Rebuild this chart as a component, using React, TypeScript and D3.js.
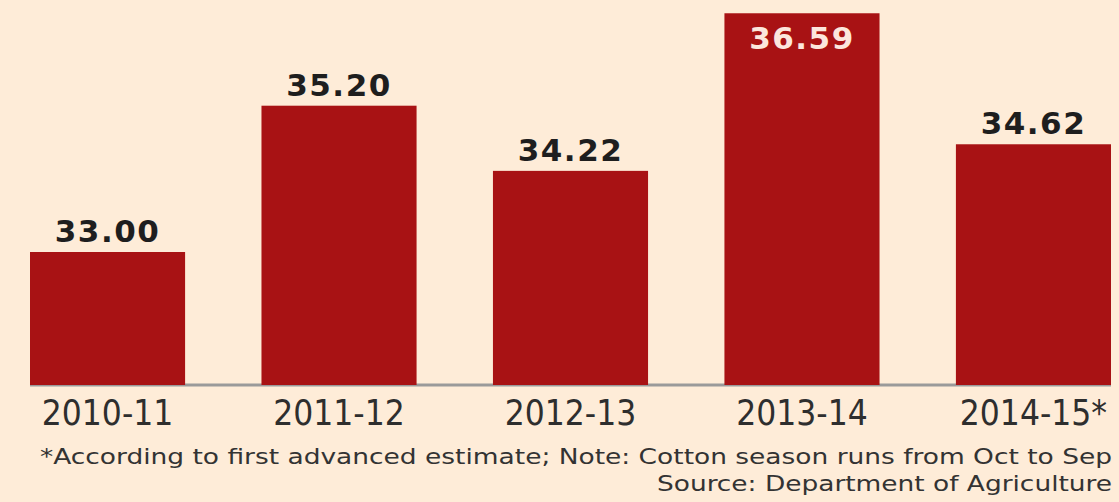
import React from "react";
import * as d3 from "d3";

const categories: string[] = ["2010-11", "2011-12", "2012-13", "2013-14", "2014-15*"];
const values: number[] = [33.0, 35.2, 34.22, 36.59, 34.62];
const valueLabels: string[] = ["33.00", "35.20", "34.22", "36.59", "34.62"];
const footnote = "*According to first advanced estimate; Note: Cotton season runs from Oct to Sep";
const source = "Source: Department of Agriculture";

const W = 1119;
const H = 502;
const BG = "#FEECD8";
const BAR = "#A81214";

export default function App() {
  const x = d3.scaleBand<string>().domain(categories).range([30, 1111]).paddingInner(0.33).paddingOuter(0);
  const y = d3.scaleLinear().domain([31, 37]).range([385, -14]);
  const maxV = d3.max(values) as number;
  const condensed = "'DejaVu Sans Condensed', 'DejaVu Sans', sans-serif";

  return (
    <svg width={W} height={H} style={{ position: "absolute", left: 0, top: 0, display: "block" }}>
      <rect x={0} y={0} width={W} height={H} fill={BG} />
      <line x1={x(categories[0])} x2={(x(categories[4]) as number) + x.bandwidth()} y1={y(31)} y2={y(31)} stroke="#9a9a9a" strokeWidth={3} />
      {categories.map((c, i) => {
        const bx = x(c) as number;
        const top = y(values[i]);
        const inside = values[i] === maxV;
        return (
          <g key={c}>
            <rect x={bx} y={top} width={x.bandwidth()} height={y(31) - top} fill={BAR} />
            <text
              x={bx + x.bandwidth() / 2}
              y={inside ? top + 36 : top - 10}
              textAnchor="middle"
              fontFamily="'DejaVu Sans', sans-serif"
              fontWeight="bold"
              fontSize={31}
              letterSpacing={1.5}
              fill={inside ? "#FCE6DD" : "#1e1e1e"}
            >
              {valueLabels[i]}
            </text>
            <text
              x={bx + x.bandwidth() / 2}
              y={425}
              textAnchor="middle"
              fontFamily={condensed}
              fontStretch="condensed"
              fontSize={35}
              fill="#2e2e2e"
            >
              {c}
            </text>
          </g>
        );
      })}
      <text x={1112} y={464} textAnchor="end" fontFamily={condensed} fontStretch="condensed" fontSize={21} fill="#333" textLength={1072} lengthAdjust="spacingAndGlyphs">
        {footnote}
      </text>
      <text x={1112} y={491} textAnchor="end" fontFamily={condensed} fontStretch="condensed" fontSize={21} fill="#333" textLength={455} lengthAdjust="spacingAndGlyphs">
        {source}
      </text>
    </svg>
  );
}
